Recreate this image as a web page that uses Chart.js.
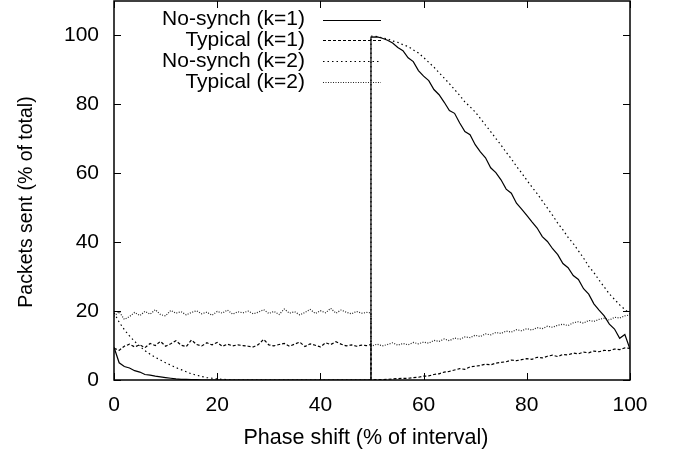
<!DOCTYPE html>
<html>
<head>
<meta charset="utf-8">
<script src="https://cdn.jsdelivr.net/npm/chart.js@4.4.0/dist/chart.umd.min.js"></script>
<style>
  html, body { margin: 0; padding: 0; background: #fff; }
  canvas { display: block; }
</style>
</head>
<body>
<canvas id="myChart" width="678" height="450"></canvas>
<script>
// phase shift samples, before and after the jump near 50
const phaseBefore = [0, 1, 2, 3, 4, 5, 6, 7, 8, 9,
  10, 11, 12, 13, 14, 15, 16, 17, 18, 19,
  20, 21, 22, 23, 24, 25, 26, 27, 28, 29,
  30, 31, 32, 33, 34, 35, 36, 37, 38, 39,
  40, 41, 42, 43, 44, 45, 46, 47, 48, 49, 49.8];
const phaseAfter = [49.8, 51, 52, 53, 54, 55, 56, 57, 58, 59,
  60, 61, 62, 63, 64, 65, 66, 67, 68, 69,
  70, 71, 72, 73, 74, 75, 76, 77, 78, 79,
  80, 81, 82, 83, 84, 85, 86, 87, 88, 89,
  90, 91, 92, 93, 94, 95, 96, 97, 98, 99, 100];

const nosynch1Before = [9.5, 5.0, 3.9, 3.5, 2.7, 2.3, 1.6, 1.4, 1.1, 0.9,
  0.7, 0.5, 0.3, 0.2, 0.2, 0.1, 0.1, 0, 0, 0,
  0, 0, 0, 0, 0, 0, 0, 0, 0, 0,
  0, 0, 0, 0, 0, 0, 0, 0, 0, 0,
  0, 0, 0, 0, 0, 0, 0, 0, 0, 0, 0];
const nosynch1After = [99.5, 99.6, 99.2, 98.6, 97.8, 96.5, 95.6, 93.5, 92.4, 89.8,
  88.2, 86.9, 84.3, 82.8, 80.6, 78.2, 77.4, 74.6, 72.1, 71.2,
  68.3, 66.2, 64.5, 61.6, 60.2, 58.1, 55.4, 54.2, 51.3, 49.6,
  47.8, 45.9, 44.1, 41.6, 40.2, 38.1, 36.4, 33.8, 32.6, 30.3,
  29.2, 26.5, 24.9, 22.1, 20.3, 18.6, 16.2, 14.8, 12.1, 13.2, 9.0];

const typical1Before = [9.2, 8.6, 9.8, 10.4, 9.6, 10.2, 9.4, 10.6, 10.0, 11.2,
  9.8, 10.5, 11.4, 10.1, 9.7, 11.6, 10.3, 9.9, 10.8, 10.2,
  10.9, 9.8, 10.4, 9.9, 10.2, 10.0, 9.8, 9.6, 10.3, 11.8,
  10.2, 9.9, 10.3, 10.6, 9.8, 10.4, 11.0, 9.7, 10.5, 10.1,
  9.6, 10.8, 10.3, 11.1, 10.4, 9.9, 10.2, 9.8, 10.1, 10.0, 10.3];
const typical1After = [0, 0.1, 0.1, 0.2, 0.3, 0.4, 0.5, 0.5, 0.7, 0.8,
  1.1, 1.2, 1.6, 1.8, 2.3, 2.5, 2.9, 3.3, 3.1, 3.8,
  4.0, 4.2, 4.6, 4.4, 4.9, 5.1, 5.3, 5.8, 5.6, 5.9,
  6.2, 6.0, 6.6, 6.4, 6.9, 7.2, 6.8, 7.4, 7.3, 7.8,
  7.6, 8.1, 7.9, 8.4, 8.2, 8.6, 8.5, 9.0, 8.8, 9.3, 9.2];

const nosynch2Before = [19.5, 16.8, 14.6, 12.8, 11.2, 9.8, 8.5, 7.5, 6.6, 5.8,
  5.0, 4.3, 3.6, 3.0, 2.4, 1.8, 1.4, 1.0, 0.7, 0.5,
  0.3, 0.2, 0.1, 0, 0, 0, 0, 0, 0, 0,
  0, 0, 0, 0, 0, 0, 0, 0, 0, 0,
  0, 0, 0, 0, 0, 0, 0, 0, 0, 0, 0];
const nosynch2After = [99.8, 99.7, 99.3, 99.0, 98.4, 98.0, 97.3, 96.8, 95.8, 94.9,
  93.6, 92.2, 90.8, 89.2, 87.6, 86.0, 84.3, 82.6, 80.7, 79.3,
  77.8, 75.9, 74.0, 72.1, 70.1, 68.2, 66.1, 64.2, 62.0, 60.1,
  58.0, 56.0, 54.1, 52.0, 49.9, 47.8, 45.5, 43.6, 41.4, 39.6,
  37.5, 35.4, 33.0, 31.2, 29.0, 27.0, 25.0, 23.4, 21.8, 20.5, 19.2];

const typical2Before = [18.5, 19.8, 17.6, 18.4, 19.6, 18.7, 19.9, 19.1, 20.4, 19.0,
  18.6, 20.2, 19.4, 19.8, 18.9, 19.6, 20.1, 19.2, 19.7, 18.8,
  19.9, 19.4, 20.3, 19.1, 19.8, 19.5, 20.0, 19.2, 19.7, 20.4,
  19.3, 19.9, 19.0, 20.6, 19.4, 19.8, 18.9, 19.6, 20.5, 19.3,
  20.1, 19.5, 20.8, 19.4, 20.3, 19.7, 19.2, 19.9, 19.4, 19.6, 19.5];
const typical2After = [9.8, 10.4, 9.9, 10.3, 10.8, 10.1, 10.6, 10.2, 10.9, 10.5,
  11.0, 10.7, 11.5, 11.2, 11.9, 11.4, 12.2, 11.8, 12.5, 12.3,
  13.0, 12.6, 13.4, 13.1, 13.8, 13.5, 14.2, 13.9, 14.6, 14.3,
  14.9, 14.5, 15.2, 14.9, 15.6, 15.3, 15.9, 16.2, 15.8, 16.6,
  16.9, 16.5, 17.3, 17.0, 17.6, 17.9, 17.4, 18.2, 18.0, 18.6, 18.9];

const seriesLabels = ['No-synch (k=1)', 'Typical (k=1)', 'No-synch (k=2)', 'Typical (k=2)'];
const xTicks = [0, 20, 40, 60, 80, 100];
const yTicks = [0, 20, 40, 60, 80, 100];
const xTitle = 'Phase shift (% of interval)';
const yTitle = 'Packets sent (% of total)';

const FONT = '"Liberation Sans", Arial, Helvetica, sans-serif';
const FONT_SIZE = 21;

function toPoints(before, after) {
  const pts = [];
  phaseBefore.forEach((p, i) => pts.push({ x: p, y: before[i] }));
  phaseAfter.forEach((p, i) => pts.push({ x: p, y: after[i] }));
  return pts;
}

const lineStyles = [
  { dash: [], color: '#000' },
  { dash: [3, 2], color: '#000' },
  { dash: [1.5, 3], color: '#000' },
  { dash: [1, 1.5], color: '#222' }
];

const seriesData = [
  toPoints(nosynch1Before, nosynch1After),
  toPoints(typical1Before, typical1After),
  toPoints(nosynch2Before, nosynch2After),
  toPoints(typical2Before, typical2After)
];

// frame, inward ticks, axis titles and gnuplot style key
const gnuFrame = {
  id: 'gnuFrame',
  afterDraw(chart) {
    const { ctx, chartArea: a, scales: { x, y } } = chart;
    ctx.save();
    ctx.strokeStyle = '#000';
    ctx.lineWidth = 1;
    ctx.setLineDash([]);
    ctx.beginPath();
    xTicks.forEach(v => {
      const px = Math.round(x.getPixelForValue(v)) + 0.5;
      ctx.moveTo(px, a.bottom); ctx.lineTo(px, a.bottom - 7);
      ctx.moveTo(px, a.top); ctx.lineTo(px, a.top + 7);
    });
    yTicks.forEach(v => {
      const py = Math.round(y.getPixelForValue(v)) + 0.5;
      ctx.moveTo(a.left, py); ctx.lineTo(a.left + 7, py);
      ctx.moveTo(a.right, py); ctx.lineTo(a.right - 7, py);
    });
    ctx.stroke();
    ctx.lineWidth = 1.5;
    ctx.strokeRect(a.left, a.top, a.right - a.left, a.bottom - a.top);

    ctx.fillStyle = '#000';
    ctx.textAlign = 'center';
    ctx.textBaseline = 'middle';
    ctx.font = '21.5px ' + FONT;
    ctx.fillText(xTitle, 366, 438);
    ctx.save();
    ctx.font = '19.5px ' + FONT;
    ctx.translate(27, 202);
    ctx.rotate(-Math.PI / 2);
    ctx.fillText(yTitle, 0, 0);
    ctx.restore();

    // key
    ctx.font = FONT_SIZE + 'px ' + FONT;
    ctx.textAlign = 'right';
    chart.data.datasets.forEach((ds, i) => {
      const rowY = 19.5 + i * 20.8;
      ctx.fillText(ds.label, 305, rowY);
      ctx.beginPath();
      ctx.lineWidth = 1.2;
      ctx.strokeStyle = ds.borderColor;
      ctx.setLineDash(ds.borderDash);
      ctx.moveTo(323, Math.round(rowY) + 0.5);
      ctx.lineTo(381, Math.round(rowY) + 0.5);
      ctx.stroke();
    });
    ctx.restore();
  }
};

new Chart(document.getElementById('myChart').getContext('2d'), {
  type: 'line',
  data: {
    datasets: seriesLabels.map((label, i) => ({
      label: label,
      data: seriesData[i],
      borderColor: lineStyles[i].color,
      borderDash: lineStyles[i].dash,
      borderWidth: 1.2,
      pointRadius: 0,
      tension: 0,
      fill: false
    }))
  },
  options: {
    responsive: false,
    animation: false,
    layout: { padding: { left: 0, right: 48, top: 1, bottom: 0 } },
    plugins: { legend: { display: false }, tooltip: { enabled: false } },
    scales: {
      x: {
        type: 'linear',
        min: 0,
        max: 100,
        afterBuildTicks: s => { s.ticks = xTicks.map(v => ({ value: v })); },
        afterFit: s => { s.height = 70; s.paddingLeft = 0; s.paddingRight = 0; },
        grid: { display: false, drawTicks: false },
        border: { display: false },
        ticks: { color: '#000', padding: 13, maxRotation: 0, font: { family: FONT, size: FONT_SIZE } }
      },
      y: {
        type: 'linear',
        min: 0,
        max: 110,
        afterBuildTicks: s => { s.ticks = yTicks.map(v => ({ value: v })); },
        afterFit: s => { s.width = 114; s.paddingTop = 0; s.paddingBottom = 0; },
        grid: { display: false, drawTicks: false },
        border: { display: false },
        ticks: { color: '#000', padding: 15, font: { family: FONT, size: FONT_SIZE } }
      }
    }
  },
  plugins: [gnuFrame]
});
</script>
</body>
</html>
